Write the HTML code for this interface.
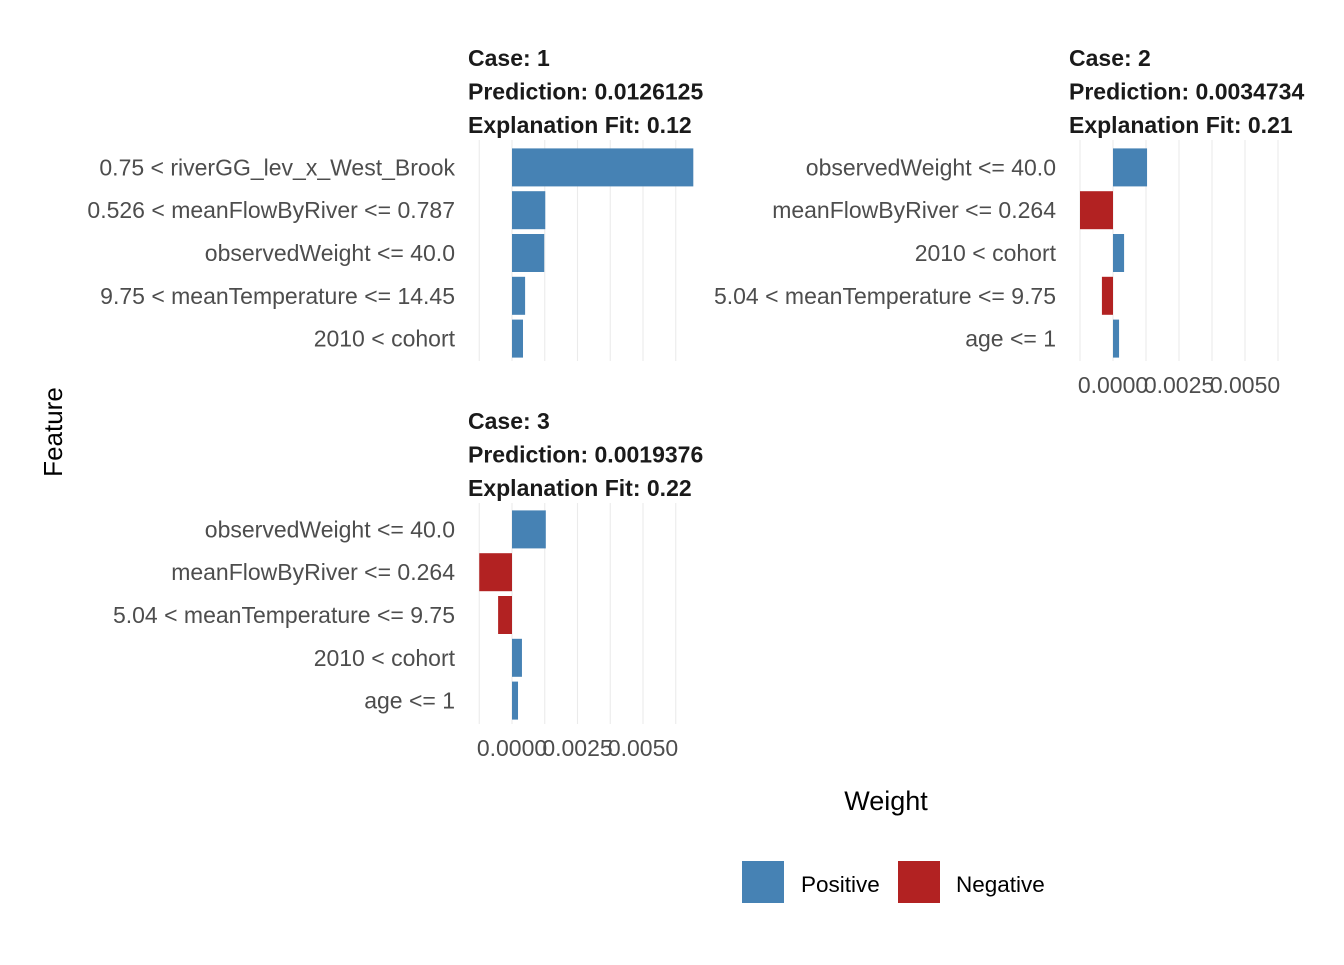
<!DOCTYPE html>
<html><head><meta charset="utf-8"><style>
body{margin:0;background:#fff}
text{font-family:"Liberation Sans",sans-serif}
</style></head><body>
<svg id="c" width="1344" height="960" xmlns="http://www.w3.org/2000/svg">
<defs>
<clipPath id="cp1"><rect x="460" y="30" width="243" height="120"/></clipPath>
<clipPath id="cp2"><rect x="1060" y="30" width="245" height="120"/></clipPath>
<clipPath id="cp3"><rect x="460" y="395" width="243" height="120"/></clipPath>
</defs>
<g id="panels"></g>
<text x="62" y="432" font-size="26" text-anchor="middle" transform="rotate(-90 62 432)">Feature</text>
<text x="886" y="810" font-size="27" text-anchor="middle">Weight</text>
<g>
<rect x="742" y="861" width="42" height="42" fill="#4682B4"/>
<text x="801" y="892" font-size="22.5">Positive</text>
<rect x="898" y="861" width="42" height="42" fill="#B22222"/>
<text x="956" y="892" font-size="22.5">Negative</text>
</g>
</svg>
<script>
const caseIds=["1","2","3"];
const predictions=["0.0126125","0.0034734","0.0019376"];
const fits=["0.12","0.21","0.22"];
const features1=["0.75 < riverGG_lev_x_West_Brook","0.526 < meanFlowByRiver <= 0.787","observedWeight <= 40.0","9.75 < meanTemperature <= 14.45","2010 < cohort"];
const weights1=[0.00692,0.00127,0.00123,0.0005,0.00042];
const features2=["observedWeight <= 40.0","meanFlowByRiver <= 0.264","2010 < cohort","5.04 < meanTemperature <= 9.75","age <= 1"];
const weights2=[0.00129,-0.00125,0.00042,-0.00042,0.00023];
const features3=["observedWeight <= 40.0","meanFlowByRiver <= 0.264","5.04 < meanTemperature <= 9.75","2010 < cohort","age <= 1"];
const weights3=[0.00129,-0.00125,-0.00053,0.00038,0.00023];
const tickVals=[0,0.0025,0.005];
const tickLabels=["0.0000","0.0025","0.0050"];
const gridVals=[-0.00125,0,0.00125,0.0025,0.00375,0.005,0.00625];

const NS="http://www.w3.org/2000/svg";
const root=document.getElementById('panels');
function mk(tag,attrs,parent,txt){const e=document.createElementNS(NS,tag);for(const k in attrs)e.setAttribute(k,attrs[k]);if(txt!==undefined)e.textContent=txt;parent.appendChild(e);return e;}
const panels=[
 {zero:512,scale:26200,gtop:140,gbot:361,top:146,bottom:360,labelX:455,titleX:468,titleY:58,clip:"cp1",feats:features1,w:weights1,axis:false},
 {zero:1113,scale:26400,gtop:140,gbot:361,top:146,bottom:360,labelX:1056,titleX:1069,titleY:58,clip:"cp2",feats:features2,w:weights2,axis:true},
 {zero:512,scale:26200,gtop:503,gbot:724,top:508,bottom:722,labelX:455,titleX:468,titleY:421,clip:"cp3",feats:features3,w:weights3,axis:true}
];
panels.forEach((p,pi)=>{
 const g=mk('g',{},root);
 
 
 const xs=v=>p.zero+v*p.scale;
 gridVals.forEach(v=>{
  const l=mk('line',{x1:xs(v),x2:xs(v),y1:p.gtop,y2:p.gbot,stroke:'#EBEBEB','stroke-width':1.1},g);
  
  
 });
 const tg=mk('g',{'clip-path':'url(#'+p.clip+')'},g);
 const lines=["Case: "+caseIds[pi],"Prediction: "+predictions[pi],"Explanation Fit: "+fits[pi]];
 lines.forEach((s,i)=>{
  const t=mk('text',{x:p.titleX,y:p.titleY+i*33.5+8,'font-size':23,'font-weight':'bold',fill:'#1a1a1a'},tg,s);
  
  
 });
 const n=p.feats.length, band=(p.bottom-p.top)/n;
 p.feats.forEach((f,i)=>{
  const cy=p.top+band*(i+0.5);
  const t=mk('text',{x:p.labelX,y:cy+8,'font-size':23,'text-anchor':'end',fill:'#4d4d4d'},g,f);
  
  
  const v=p.w[i];
  const x0=Math.min(xs(0),xs(v)), x1=Math.max(xs(0),xs(v));
  const r=mk('rect',{x:x0,y:cy-19,width:x1-x0,height:38,fill:v>=0?'#4682B4':'#B22222'},g);
  
  
 });
 if(p.axis){
  tickVals.forEach((v,i)=>{
   const t=mk('text',{x:xs(v),y:p.gbot+32,'font-size':23,'text-anchor':'middle',fill:'#4d4d4d'},g,tickLabels[i]);
   
   
  });
 }
});
</script>
</body></html>
